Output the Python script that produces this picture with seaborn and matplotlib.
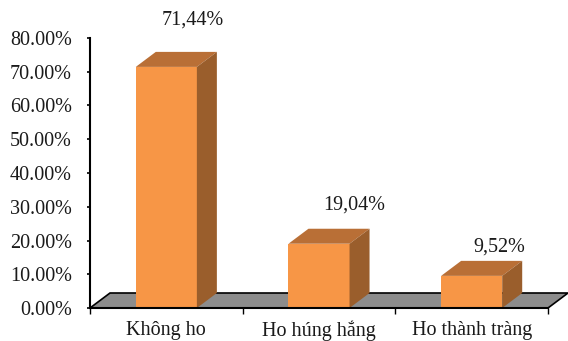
import matplotlib
matplotlib.use("Agg")
import matplotlib.pyplot as plt
import seaborn as sns
import numpy as np
from matplotlib.patches import Polygon
from matplotlib.ticker import PercentFormatter, FixedLocator

categories = ["Không ho", "Ho húng hắng", "Ho thành tràng"]
values = [0.7144, 0.1904, 0.0952]
value_labels = ["71,44%", "19,04%", "9,52%"]

# style
FRONT = "#F79646"
TOP = "#B96F36"
SIDE = "#9A5E2C"
FLOOR = "#8C8C8C"
DEPTH_PX = (20, 15)
LABEL_OFFSETS_PX = [(26, 47), (35, 39), (28, 29)]

sns.set_theme(style="white")
plt.rcParams["font.family"] = ["Liberation Serif", "DejaVu Serif"]

fig = plt.figure(figsize=(5.68, 3.41), dpi=100)
ax = fig.add_axes([90 / 568, 33 / 341, 458 / 568, 270 / 341])

sns.barplot(x=categories, y=values, color=FRONT, saturation=1, width=0.4,
            ax=ax, zorder=3, linewidth=0)
ax.set_xlim(-0.5, 2.5)
ax.set_ylim(0, 0.8)
ax.set_xlabel("")
ax.set_ylabel("")

fig.canvas.draw()
to_disp = ax.transData.transform
to_data = ax.transData.inverted().transform
dx, dy = DEPTH_PX


def back(pts):
    d = to_disp(np.array(pts, dtype=float))
    d[:, 0] += dx
    d[:, 1] += dy
    return to_data(d)


bars = list(ax.patches)

# floor
x0, x1 = ax.get_xlim()
front_edge = np.array([[x0, 0.0], [x1, 0.0]])
b = back(front_edge)
floor = Polygon([front_edge[0], front_edge[1], b[1], b[0]], closed=True,
                facecolor=FLOOR, edgecolor="black", linewidth=1.2,
                zorder=1, clip_on=False)
ax.add_patch(floor)

# 3D bar top and side faces
for p in bars:
    x = p.get_x()
    w = p.get_width()
    h = p.get_height()
    fl, fr = np.array([x, h]), np.array([x + w, h])
    bl, br = back([fl, fr])
    ax.add_patch(Polygon([fl, fr, br, bl], closed=True, facecolor=TOP,
                         edgecolor="none", zorder=4, clip_on=False))
    br0 = back([[x + w, 0.0]])[0]
    ax.add_patch(Polygon([[x + w, 0.0], fr, br, br0], closed=True,
                         facecolor=SIDE, edgecolor="none", zorder=4,
                         clip_on=False))

# value labels
for i, (v, lab) in enumerate(zip(values, value_labels)):
    ox, oy = LABEL_OFFSETS_PX[i]
    ax.annotate(lab, xy=(i, v), xytext=(ox * 72 / 100, oy * 72 / 100),
                textcoords="offset points", ha="center", va="center",
                fontsize=14.5, color="#1a1a1a", annotation_clip=False)

# axes styling
for s in ["top", "right"]:
    ax.spines[s].set_visible(False)
for s in ["left", "bottom"]:
    ax.spines[s].set_color("black")
    ax.spines[s].set_linewidth(1.5)
    ax.spines[s].set_zorder(5)

ax.yaxis.set_major_locator(FixedLocator(np.arange(0, 0.81, 0.1)))
ax.yaxis.set_major_formatter(PercentFormatter(xmax=1, decimals=2))
ax.tick_params(axis="y", direction="out", length=2.5, width=1.2, pad=10.5,
               labelsize=14.5, colors="black", left=True)
ax.set_xticks(range(len(categories)))
ax.set_xticklabels(categories)
ax.tick_params(axis="x", which="major", length=0, pad=9, labelsize=14.5,
               colors="black")
ax.set_xticks([-0.5, 0.5, 1.5, 2.5], minor=True)
ax.tick_params(axis="x", which="minor", direction="out", length=4,
               width=1.0, color="black", bottom=True)
for t in ax.get_yticklabels() + ax.get_xticklabels():
    t.set_color("#1a1a1a")

fig.savefig("out.png", dpi=100)
